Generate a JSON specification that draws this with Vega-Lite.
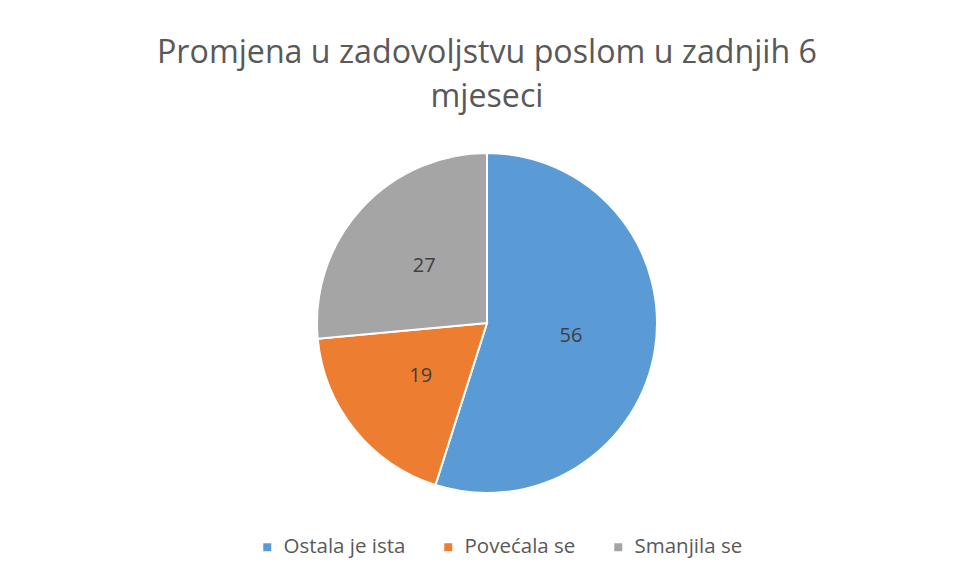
{
  "$schema": "https://vega.github.io/schema/vega-lite/v6.json",
  "width": 340,
  "height": 340,
  "autosize": {"type": "none"},
  "padding": {"left": 317, "top": 153, "right": 300, "bottom": 88},
  "background": "white",
  "title": {
    "text": ["Promjena u zadovoljstvu poslom u zadnjih 6", "mjeseci"],
    "font": "Open Sans",
    "fontSize": 32.2,
    "fontWeight": "normal",
    "color": "#595959",
    "lineHeight": 44,
    "offset": 35,
    "anchor": "middle",
    "frame": "group"
  },
  "data": {
    "values": [
      {"kategorija": "Ostala je ista", "vrijednost": 56},
      {"kategorija": "Povećala se", "vrijednost": 19},
      {"kategorija": "Smanjila se", "vrijednost": 27}
    ]
  },
  "encoding": {
    "theta": {"field": "vrijednost", "type": "quantitative", "stack": true},
    "order": {"field": "kategorija", "type": "ordinal"}
  },
  "layer": [
    {
      "mark": {"type": "arc", "stroke": "white", "strokeWidth": 2, "outerRadius": 170},
      "encoding": {
        "color": {
          "field": "kategorija",
          "type": "nominal",
          "scale": {
            "domain": ["Ostala je ista", "Povećala se", "Smanjila se"],
            "range": ["#5B9BD5", "#ED7D31", "#A5A5A5"]
          },
          "legend": {
            "title": null,
            "orient": "none",
            "direction": "horizontal",
            "legendX": -60,
            "legendY": 384,
            "gridAlign": "none",
            "symbolType": "square",
            "symbolSize": 64,
            "symbolStrokeWidth": 0,
            "labelFont": "Open Sans",
            "labelFontSize": 20.5,
            "labelColor": "#595959",
            "labelOffset": 6,
            "columnPadding": 32
          }
        }
      }
    },
    {
      "mark": {"type": "text", "radius": 85, "font": "Open Sans", "fontSize": 20, "color": "#404040"},
      "encoding": {
        "detail": {"field": "kategorija", "type": "nominal"},
        "text": {"field": "vrijednost", "type": "quantitative"}
      }
    }
  ],
  "config": {"view": {"stroke": null}}
}
